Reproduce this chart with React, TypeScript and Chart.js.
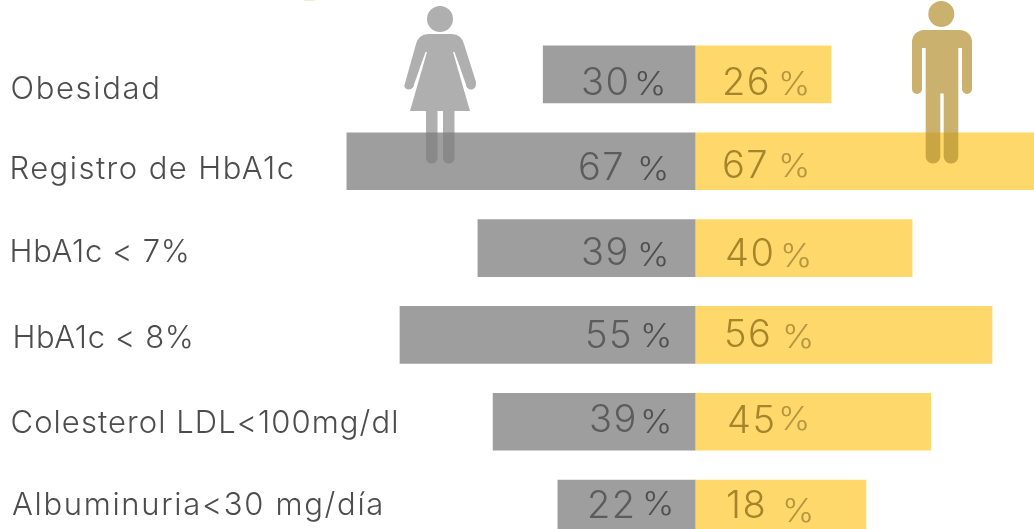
import React, { useEffect, useRef } from "react";
import { Chart, registerables } from "chart.js";

Chart.register(...registerables);

const categories = ["Obesidad", "Registro de HbA1c", "HbA1c < 7%", "HbA1c < 8%", "Colesterol LDL<100mg/dl", "Albuminuria<30 mg/día"];
const mujeresBar = [30.0, 68.8, 42.9, 58.3, 39.9, 27.1];
const hombresBar = [26.9, 67.0, 42.9, 58.7, 46.6, 33.8];
const mujeresText = ["30", "67", "39", "55", "39", "22"];
const hombresText = ["26", "67", "40", "56", "45", "18"];

// text placement, relative to zero line and bar centre [dx, dy]
const femaleNumNudge = [[-114, 20.6], [-117, 18.75], [-114, 17], [-110, 13], [-106, 10.25], [-108, 9.4]];
const femalePctNudge = [[-61, 20.6], [-58, 18.75], [-58, 18], [-55, 12], [-55, 11.25], [-53, 6.4]];
const maleNumNudge = [[27, 20.6], [27, 16.75], [30, 18], [29, 12], [32, 11.25], [31, 9.4]];
const malePctNudge = [[83, 20.6], [83, 15.75], [85, 19], [87, 13], [83, 8.25], [87, 13.4]];
const catX = [10.5, 9.5, 9.5, 12.5, 10.5, 12];
const catBaseline = [98.5, 179, 262, 348, 433, 515];
const catWidth = [151, 286, 181, 182, 389, 373];

const FONT = "Inter, 'DejaVu Sans', sans-serif";

const womanPath = () => {
  const p = new Path2D();
  p.arc(440, 19, 13, 0, Math.PI * 2);
  p.moveTo(428, 34);
  p.lineTo(452, 34);
  p.quadraticCurveTo(461, 34, 464, 44);
  p.lineTo(476, 82);
  p.arc(471, 84.5, 5, 0.3, Math.PI);
  p.lineTo(454.5, 52);
  p.lineTo(453, 52);
  p.lineTo(470, 111);
  p.lineTo(410, 111);
  p.lineTo(427, 52);
  p.lineTo(425.5, 52);
  p.lineTo(414, 84.5);
  p.arc(409, 84.5, 5, 0, Math.PI - 0.3);
  p.lineTo(416, 44);
  p.quadraticCurveTo(419, 34, 428, 34);
  p.closePath();
  p.roundRect(426, 110.5, 11.5, 53, [0, 0, 5.5, 5.5]);
  p.roundRect(443, 110.5, 11.5, 53, [0, 0, 5.5, 5.5]);
  return p;
};

const manPath = () => {
  const p = new Path2D();
  p.arc(941.3, 14, 13, 0, Math.PI * 2);
  p.roundRect(912, 30, 60, 18, [12, 12, 0, 0]);
  p.roundRect(912, 47.5, 10, 46.5, [0, 0, 5, 5]);
  p.roundRect(962, 47.5, 10, 46.5, [0, 0, 5, 5]);
  p.rect(925.7, 47.5, 32.6, 46);
  p.roundRect(925.7, 93, 14.6, 70.5, [0, 0, 7, 7]);
  p.roundRect(943.7, 93, 14.6, 70.5, [0, 0, 7, 7]);
  return p;
};

const overlay = {
  id: "overlay",
  afterDatasetsDraw(chart: any) {
    const { ctx, scales } = chart;
    const x0 = scales.x.getPixelForValue(0);
    ctx.save();
    ctx.textBaseline = "alphabetic";
    ctx.textAlign = "left";

    // faint remnant of a mark cut off by the top edge
    ctx.fillStyle = "rgba(226,196,100,0.3)";
    ctx.fillRect(304, 0, 11, 1);

    ctx.fillStyle = "rgba(125,125,125,0.61)";
    ctx.fill(womanPath());
    ctx.fillStyle = "rgba(180,146,48,0.70)";
    ctx.fill(manPath());

    const num = (t: string, n: number[], i: number, color: string) => {
      ctx.font = `300 38px ${FONT}`;
      ctx.fillStyle = color;
      ctx.letterSpacing = "1.5px";
      ctx.fillText(t, x0 + n[0], scales.y.getPixelForValue(i) + n[1]);
    };
    const pct = (n: number[], i: number, color: string) => {
      ctx.save();
      ctx.font = `300 32px ${FONT}`;
      ctx.fillStyle = color;
      ctx.letterSpacing = "0px";
      ctx.translate(x0 + n[0], scales.y.getPixelForValue(i) + n[1]);
      ctx.scale(1.08, 1);
      ctx.fillText("%", 0, 0);
      ctx.restore();
    };

    categories.forEach((c, i) => {
      ctx.font = `300 31px ${FONT}`;
      ctx.fillStyle = "#4d4d4d";
      ctx.letterSpacing = "0px";
      const w = ctx.measureText(c).width;
      ctx.letterSpacing = `${(catWidth[i] - w) / c.length}px`;
      ctx.fillText(c, catX[i], catBaseline[i]);
      num(mujeresText[i], femaleNumNudge[i], i, "#5c5c5c");
      pct(femalePctNudge[i], i, "#4f4f4f");
      num(hombresText[i], maleNumNudge[i], i, "#a5842a");
      pct(malePctNudge[i], i, "#b5953f");
    });
    ctx.restore();
  },
};

export default function App() {
  const ref = useRef<HTMLCanvasElement>(null);
  useEffect(() => {
    document.body.style.margin = "0";
    const chart = new Chart(ref.current as HTMLCanvasElement, {
      type: "bar",
      data: {
        labels: categories,
        datasets: [
          { label: "Mujeres", data: mujeresBar.map((v) => -v), backgroundColor: "#9e9e9e", barThickness: 57 },
          { label: "Hombres", data: hombresBar, backgroundColor: "#ffd86b", barThickness: 57 },
        ],
      },
      options: {
        indexAxis: "y",
        animation: false,
        responsive: false,
        layout: { padding: { top: 31, left: 0, right: 0, bottom: 0 } },
        plugins: { legend: { display: false }, tooltip: { enabled: false }, title: { display: false } },
        scales: {
          x: { stacked: true, display: false, min: -137.35, max: 67 },
          y: { stacked: true, display: false },
        },
      },
      plugins: [overlay],
    } as any);
    return () => chart.destroy();
  }, []);
  return (
    <div style={{ position: "fixed", left: 0, top: 0, width: 1034, height: 529, overflow: "hidden", background: "#fff" }}>
      <canvas ref={ref} width={1034} height={552} style={{ display: "block" }} />
    </div>
  );
}
